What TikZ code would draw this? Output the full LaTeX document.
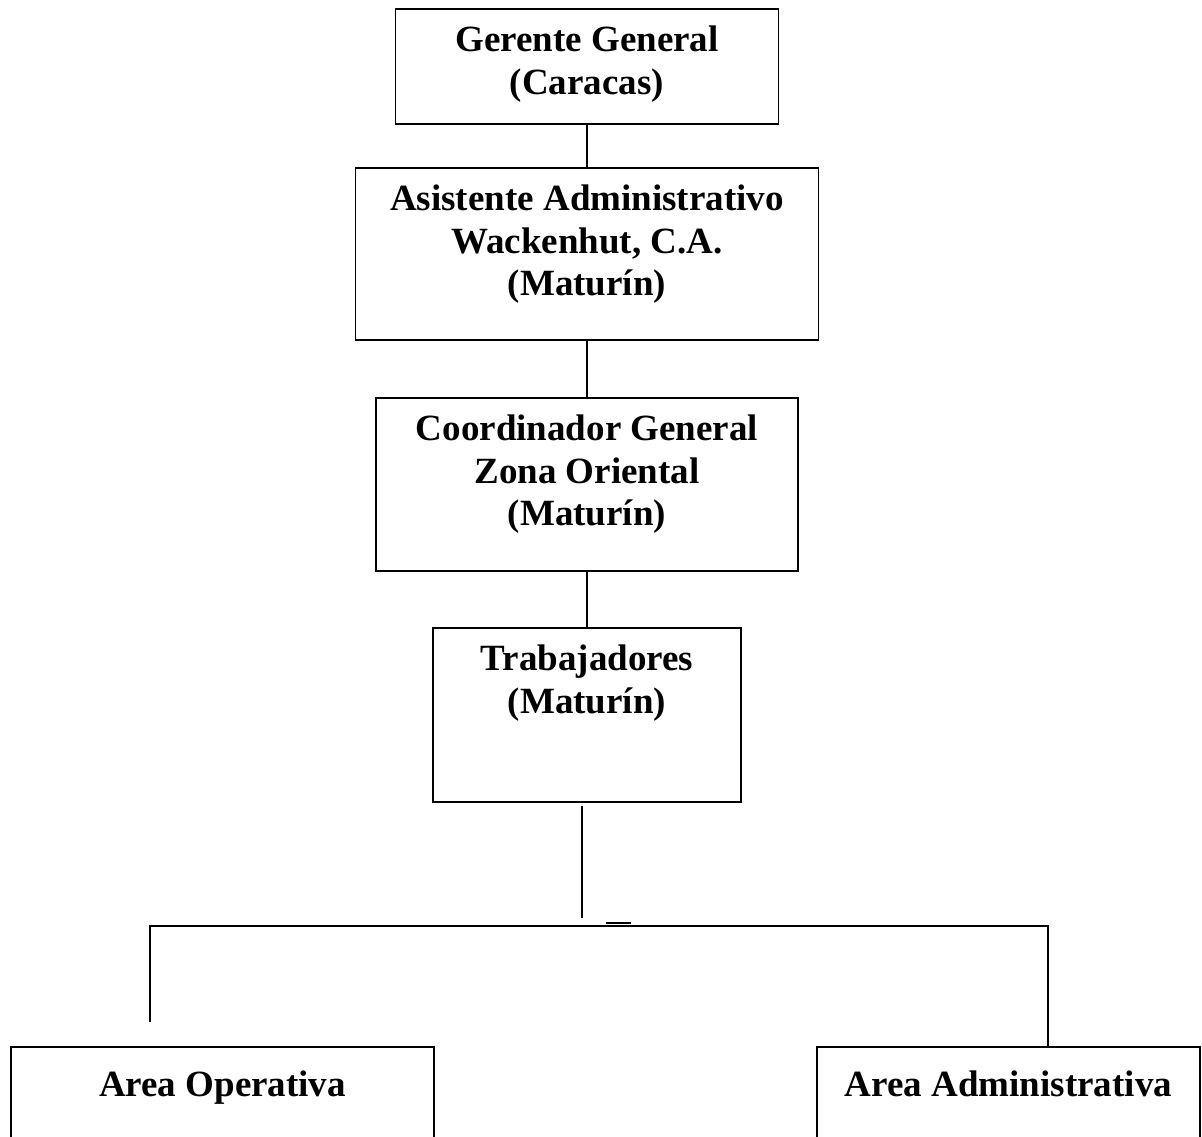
\documentclass[tikz,border=0pt]{standalone}
\usepackage{fontspec}
\setmainfont{Liberation Serif}
\usetikzlibrary{positioning}

\begin{document}
\begin{tikzpicture}[x=0.5pt, y=-0.5pt, line width=0.9pt,
    box/.style={draw, rectangle, inner sep=0pt},
    txt/.style={inner sep=0pt, align=center,
      font=\fontsize{18.5}{21.25}\selectfont\bfseries,
      execute at begin node={\rule{0pt}{16pt}}}]
    \useasboundingbox (0,0) rectangle (1202,1136);
    \clip (0,0) rectangle (1202,1136);
    % Boxes
    \node[box, minimum width=191.5pt, minimum height=57.5pt] (gg) at (587,66.5) {};
    \node[box, minimum width=231.5pt, minimum height=86pt] (asis) at (587,254) {};
    \node[box, minimum width=211pt, minimum height=86.5pt] (coord) at (587,484.5) {};
    \node[box, minimum width=154pt, minimum height=87pt] (trab) at (587,715) {};
    \node[box, minimum width=211.5pt, minimum height=70pt] (op) at (222.5,1117) {};
    \node[box, minimum width=191.5pt, minimum height=70pt] (adm) at (1008.5,1117) {};
    % Texts
    \node[txt, below=8.5pt of gg.north] (ggt) {Gerente General\\(Caracas)};
    \node[txt, below=8.5pt of asis.north] (asist) {Asistente Administrativo\\Wackenhut, C.A.\\(Maturín)};
    \node[txt, below=8.5pt of coord.north] (coordt) {Coordinador General\\Zona Oriental\\(Maturín)};
    \node[txt, below=8.5pt of trab.north] (trabt) {Trabajadores\\(Maturín)};
    \node[txt, below=8.5pt of op.north] (opt) {Area Operativa};
    \node[txt, below=8.5pt of adm.north] (admt) {Area Administrativa};
    % Lines
    \draw (gg) -- (asis);
    \draw (asis) -- (coord);
    \draw (coord) -- (trab);
    \coordinate (ts) at (582,806);
    \coordinate (tj) at (582,918);
    \coordinate (jl) at (150,926);
    \coordinate (jr) at (1048,926);
    \coordinate (jd) at (150,1022);
    \draw (ts) -- (tj);
    \draw (jd) -- (jl) -- (jr) -- (jr |- adm.north);
    \draw (606,923) -- (631,923);
\end{tikzpicture}
\end{document}
